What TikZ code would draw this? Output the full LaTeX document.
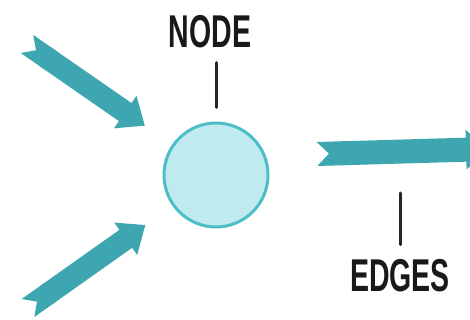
\documentclass[tikz,border=0pt]{standalone}
\usepackage{fontspec}
\newfontfamily\lblfont{Liberation Sans}[FakeStretch=0.62]
\usepackage{tikz}
\usetikzlibrary{arrows.meta,positioning}
\definecolor{edgeteal}{RGB}{62,166,176}
\definecolor{hubline}{RGB}{77,190,199}
\definecolor{hubfill}{RGB}{190,234,240}

\begin{document}
\begin{tikzpicture}[
  x=1pt,y=1pt,
  hub/.style={circle,draw=hubline,fill=hubfill,line width=3pt,
              minimum size=104pt,inner sep=0pt},
  arr/.style={{Triangle Cap[reversed]}-{Triangle[length=24pt,width=38pt]},
              line width=22pt,edgeteal},
  lbl/.style={font=\lblfont\bfseries\fontsize{46pt}{50pt}\selectfont,
              text=black!90,inner sep=0pt,anchor=base},
  tick/.style={line width=3pt,line cap=round,black!85}
]
\clip (0,0) rectangle (470,320);
\node[hub] (hub) at (216,145) {};
\coordinate (in1) at (27,276);
\coordinate (in2) at (28,12);
\coordinate (outtail) at (317,166);
\coordinate (outtip) at (490,171);
\node[lbl] (nodelbl) at (210,272) {NODE};
\node[lbl] (edgelbl) at (400,28) {EDGES};

% incoming and outgoing edges
\draw[arr,shorten >=33pt] (in1) -- (hub);
\draw[arr,shorten >=33pt] (in2) -- (hub);
\draw[arr,line width=24pt] (outtail) -- (outtip);

% pointer lines
\draw[tick,shorten <=14pt,shorten >=14pt] (hub.north) -- (hub.north |- nodelbl.south);
\draw[tick,shorten <=15pt,shorten >=39pt] (edgelbl.north) -- (edgelbl.north |- outtail);
\end{tikzpicture}
\end{document}
